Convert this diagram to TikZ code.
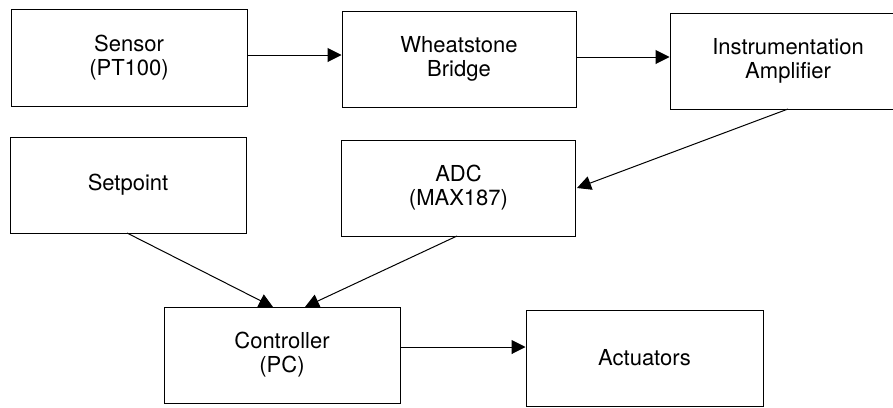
\documentclass[tikz,border=0pt]{standalone}
\usepackage{fontspec}
\setmainfont{TeX Gyre Heros}
\usetikzlibrary{arrows.meta}
\begin{document}
\begin{tikzpicture}[x=1pt,y=-1pt,
  blk/.style={draw,line width=1pt,inner sep=0pt,align=center,font=\fontsize{22}{24}\selectfont},
  conn/.style={line width=1pt,-{Triangle[length=14pt,width=14pt]}}]
\useasboundingbox (0,0) rectangle (893,407);
\clip (0,0) rectangle (893,407);
\node[blk,minimum width=236pt,minimum height=97pt] (sensor) at (129,57.5) {Sensor\\(PT100)};
\node[blk,minimum width=234pt,minimum height=96pt] (wheat) at (459,59) {Wheatstone\\Bridge};
\node[blk,minimum width=236pt,minimum height=96pt] (amp) at (788,61) {Instrumentation\\Amplifier};
\node[blk,minimum width=236pt,minimum height=96pt] (set) at (128,185) {Setpoint};
\node[blk,minimum width=234pt,minimum height=96pt] (adc) at (458.5,188) {ADC\\(MAX187)};
\node[blk,minimum width=236pt,minimum height=96pt] (ctrl) at (282,355) {Controller\\(PC)};
\node[blk,minimum width=237pt,minimum height=96pt] (act) at (644.5,358) {Actuators};
\coordinate (a1) at (sensor.east |- 0,55);
\coordinate (b1) at (wheat.west |- 0,55);
\draw[conn] (a1) -- (b1);
\coordinate (a2) at (wheat.east |- 0,57);
\coordinate (b2) at (amp.west |- 0,57);
\draw[conn] (a2) -- (b2);
\coordinate (a3) at (788,109);
\coordinate (b3) at (577,188);
\draw[conn] (a3) -- (b3);
\coordinate (a4) at (127,233);
\coordinate (b4) at (273,307);
\draw[conn] (a4) -- (b4);
\coordinate (a5) at (457,236);
\coordinate (b5) at (305,307);
\draw[conn] (a5) -- (b5);
\coordinate (a6) at (ctrl.east |- 0,347);
\coordinate (b6) at (act.west |- 0,347);
\draw[conn] (a6) -- (b6);
\end{tikzpicture}
\end{document}
